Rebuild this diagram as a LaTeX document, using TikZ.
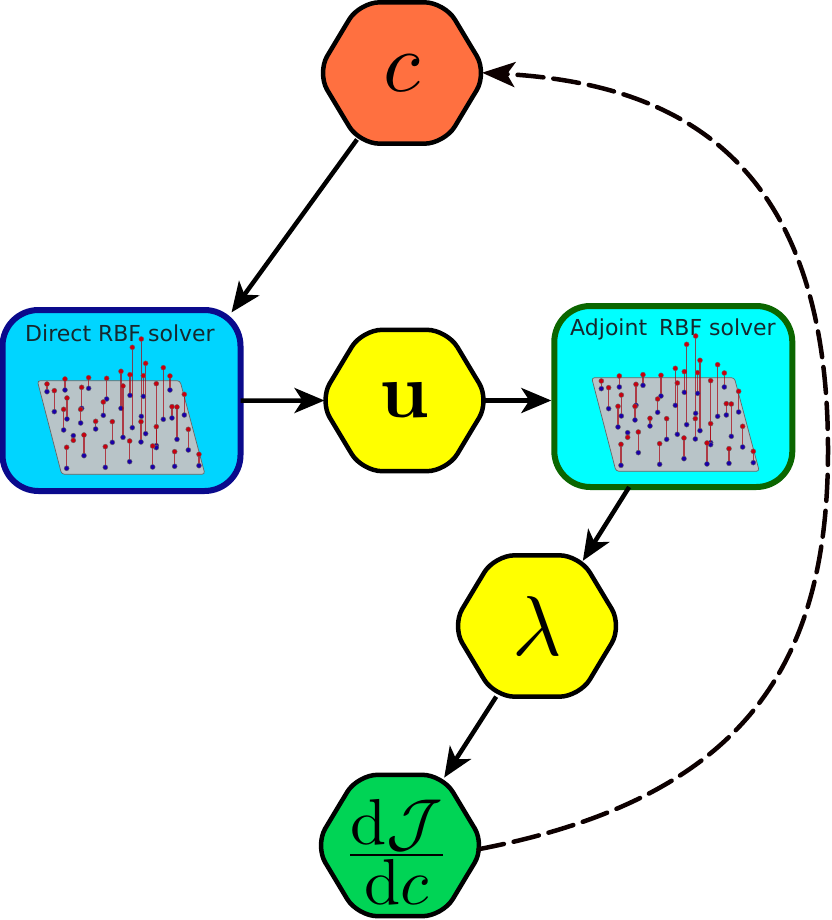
\documentclass[tikz,border=0pt]{standalone}
\usepackage[no-math]{fontspec}
\newfontfamily\solverfont{DejaVu Sans}
\usetikzlibrary{arrows.meta,shapes.geometric}

\definecolor{hexorange}{HTML}{FF7040}
\definecolor{hexyellow}{HTML}{FFFF00}
\definecolor{hexgreen}{HTML}{00D455}
\definecolor{directfill}{HTML}{00D5FF}
\definecolor{directline}{HTML}{0A0A8C}
\definecolor{adjointfill}{HTML}{00FFFF}
\definecolor{adjointline}{HTML}{0B6600}
\definecolor{platefill}{HTML}{B8C4C8}
\definecolor{rbfred}{HTML}{C80010}
\definecolor{rbfblue}{HTML}{1A00A8}
\definecolor{solvertext}{HTML}{16282E}

\tikzset{
  hexnode/.style={
    draw,
    regular polygon,
    regular polygon sides=6,
    minimum size=170pt,
    inner sep=0pt,
    outer sep=0pt,
    line width=4.5pt,
    rounded corners=20pt,
    yscale=0.96,
    transform shape
  },
  solverbox/.style={
    draw,
    rectangle,
    minimum width=238pt,
    minimum height=181pt,
    inner sep=0pt,
    outer sep=0pt,
    line width=6pt,
    rounded corners=36pt
  },
  solverlabel/.style={
    inner sep=0pt,
    text=solvertext,
    font=\solverfont\fontsize{22}{22}\selectfont
  },
  flow/.style={
    line width=4.5pt,
    -{Stealth[length=30pt,width=25pt,inset=8pt]}
  },
  feedback/.style={
    line width=4.5pt,
    line cap=round,
    color=black!95!red,
    dash pattern=on 26pt off 10pt,
    -{Stealth[length=33pt,width=25pt,inset=8pt]}
  }
}

% scattered points over the plate, in units of a third of a pixel
\newcommand{\rbfplate}{
  \draw[draw=black!60,fill=platefill,line width=0.7pt,rounded corners=3pt]
    (112,242) -- (540,242) -- (615,523) -- (185,523) -- cycle;
  \foreach \px/\ptop/\pbot in {
    141/252/275, 163/272/335, 195/237/270, 201/294/357, 191/328/390,
    266/233/265, 245/262/325, 242/328/369, 320/235/297, 310/306/346,
    287/364/387, 337/365/427, 252/405/467, 220/421/407, 200/442/505,
    316/440/502, 363/214/325, 390/224/286, 369/258/412, 397/142/383,
    424/117/349, 437/190/401, 430/227/289, 423/365/426, 389/423/485,
    469/251/437, 469/380/443, 458/438/501, 490/203/358, 510/228/270,
    516/320/354, 531/321/418, 553/283/345, 565/388/450, 524/455/499,
    597/463/497
  } {
    \draw[rbfred!85!black,opacity=0.7,line width=1.2pt] (\px,\ptop) -- (\px,\pbot);
    \draw[fill=rbfblue,draw=black!60,line width=0.4pt] (\px,\pbot) circle[radius=7.5];
    \draw[fill=rbfred,draw=black!60,line width=0.4pt] (\px,\ptop) circle[radius=7.5];
  }
}

\begin{document}
\begin{tikzpicture}[
    x=1pt,
    y=-1pt
  ]
    \useasboundingbox (0,0) rectangle (831,920);

    \node[hexnode,fill=hexorange] (c) at (402,73) {\scalebox{8.5}[8.85]{$c$}};
    \node[hexnode,fill=hexyellow] (u) at (404.5,400.5) {\scalebox{7.8}[8.12]{$\mathbf{u}$}};
    \node[hexnode,fill=hexyellow] (lambda) at (537,626) {\scalebox{8.5}[8.85]{$\lambda$}};
    \node[hexnode,fill=hexgreen] (gradient) at (400,845.5) {};
    \node[inner sep=0pt] (gradientlabel) at (396.5,852) {\scalebox{6.5}{$\frac{\displaystyle\mathrm{d}\mathcal{J}}{\displaystyle\mathrm{d}c}$}};

    \node[solverbox,draw=directline,fill=directfill] (direct) at (121.5,400.5) {};
    \node[solverbox,draw=adjointline,fill=adjointfill] (adjoint) at (673.3,396.5) {};
    \node[solverlabel] (directlabel) at (120,333) {Direct RBF solver};
    \node[solverlabel] (adjointlabel) at (673,329) {Adjoint\hspace{5pt} RBF solver};

    \begin{scope}[shift={(0,300)},x=0.3333pt,y=-0.3333pt]
      \rbfplate
    \end{scope}
    \begin{scope}[shift={(554.33,297)},x=0.3333pt,y=-0.3333pt]
      \rbfplate
    \end{scope}

    \coordinate (farright) at (828,450);

    \draw[flow,shorten >=-3pt] (c.237) -- (direct.39);
    \draw[flow,shorten >=-5pt] (direct.east) -- (u.west);
    \draw[flow,shorten <=-6pt,shorten >=3pt] (u.east) -- (u.east -| adjoint.west);
    \draw[flow] (adjoint.244) -- (lambda.56);
    \draw[flow] (lambda.241) -- (gradient.58);
    \draw[feedback,shorten <=-5pt,shorten >=-5pt] (gradient.-2) .. controls (750,797) and (828,659) .. (farright)
      .. controls (828,163) and (682,84) .. (c.east);

  \end{tikzpicture}
\end{document}
